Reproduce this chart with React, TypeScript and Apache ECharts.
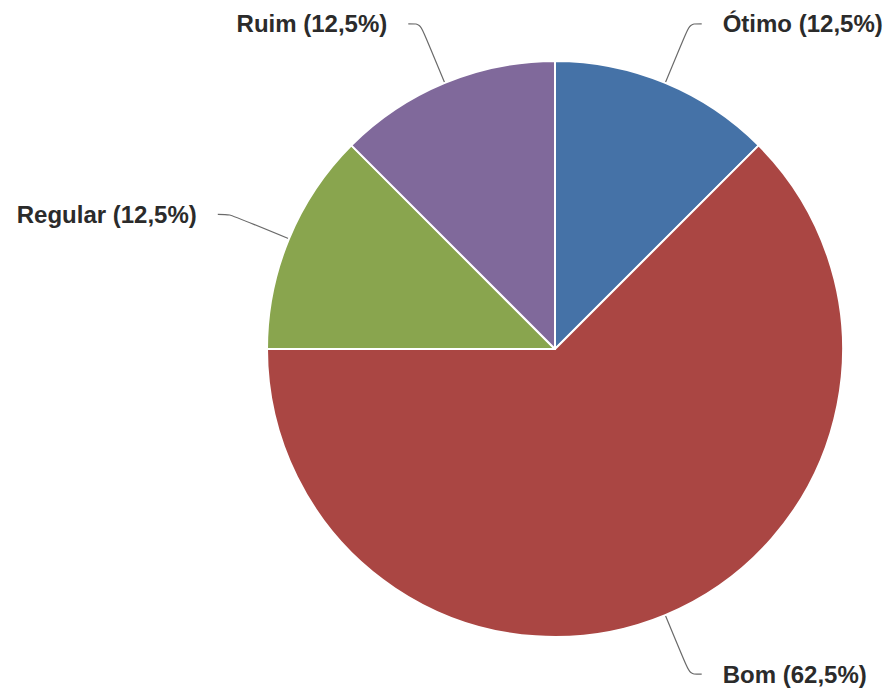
import React, { useEffect, useRef } from "react";
import * as echarts from "echarts";

const categories = ["Ótimo", "Bom", "Regular", "Ruim"];
const values = [12.5, 62.5, 12.5, 12.5];
const colors = ["#4572A7", "#AA4643", "#89A54E", "#80699B"];

export default function App() {
  const ref = useRef<HTMLDivElement>(null);
  useEffect(() => {
    if (!ref.current) return;
    const chart = echarts.init(ref.current, null, { renderer: "svg" });
    chart.setOption({
      animation: false,
      backgroundColor: "#ffffff",
      series: [
        {
          type: "pie",
          center: [555, 349],
          radius: 288,
          startAngle: 90,
          clockwise: true,
          avoidLabelOverlap: false,
          itemStyle: { borderColor: "#ffffff", borderWidth: 2 },
          label: {
            show: true,
            position: "outside",
            fontFamily: "Liberation Sans, Arial, sans-serif",
            fontWeight: "bold",
            fontSize: 24,
            color: "#2b2b2b",
            padding: [10, 0, 0, 0],
            distanceToLabelLine: 21,
            formatter: (p: any) =>
              `${p.name} (${String(p.value).replace(".", ",")}%)`,
          },
          labelLine: {
            show: true,
            length: 64,
            length2: 12,
            smooth: 0.3,
            lineStyle: { color: "#6a6a6a", width: 1.2 },
          },
          data: categories.map((name, i) => ({
            name,
            value: values[i],
            itemStyle: { color: colors[i] },
          })),
        },
      ],
    });
    return () => chart.dispose();
  }, []);
  return (
    <div
      ref={ref}
      style={{ position: "fixed", left: 0, top: 0, width: 890, height: 696 }}
    />
  );
}
